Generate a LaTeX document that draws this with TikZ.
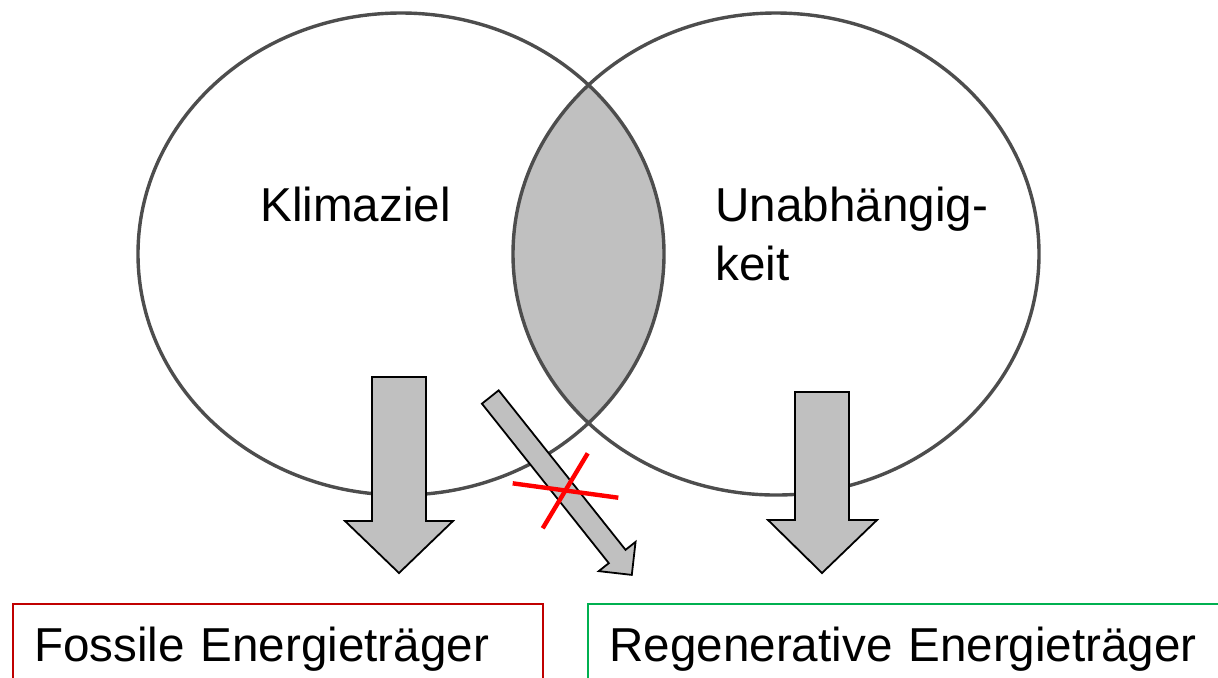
\documentclass[tikz,border=0pt]{standalone}
\usepackage{fontspec}
\setmainfont{Liberation Sans}

\definecolor{ringgray}{HTML}{4D4D4D}
\definecolor{lensgray}{HTML}{C0C0C0}
\definecolor{fossilred}{HTML}{C00000}
\definecolor{regengreen}{HTML}{00B050}

\begin{document}
\begin{tikzpicture}[x=0.5pt,y=-0.5pt,
        ring/.style={draw=ringgray,line width=1.7pt},
        blockarrow/.style={draw=black,fill=lensgray,line width=0.9pt,line join=miter},
        ringtext/.style={font=\fontsize{23.8}{29.5}\selectfont,inner sep=0pt,anchor=base west,align=left},
        energybox/.style={draw,line width=1pt,outer sep=0pt,inner xsep=10.7pt,inner ysep=0pt,
            text height=28.5pt,text depth=40pt,align=left,anchor=base west,
            font=\fontsize{23.8}{29.5}\selectfont}]
    \useasboundingbox (0,0) rectangle (1218,677);

    % overlap of the two aims
    \begin{scope}
        \clip (401,254) ellipse [x radius=263, y radius=241];
        \fill[lensgray] (776,254) ellipse [x radius=263, y radius=241];
    \end{scope}
    \draw[ring] (401,254) ellipse [x radius=263, y radius=241];
    \draw[ring] (776,254) ellipse [x radius=263, y radius=241];

    \node (klima) [ringtext] at (260,221) {Klimaziel};
    \node (unab) [ringtext] at (715,280) {Unabhängig-\\keit};

    % block arrows
    \draw[blockarrow] (372,377)--(426,377)--(426,521)--(453,521)--(399,573)--(345,521)--(372,521)--cycle;
    \draw[blockarrow] (795,392)--(849,392)--(849,520)--(877,520)--(822,573)--(768,520)--(795,520)--cycle;
    \begin{scope}[shift={(490.3,397)},rotate=-51.5]
        \draw[blockarrow] (0,-10.7)--(203.8,-10.7)--(203.8,-23.5)--(227.3,0)--(203.8,23.5)--(203.8,10.7)--(0,10.7)--cycle;
    \end{scope}

    % crossed out
    \draw[red,line width=2.2pt] (512.7,483.3)--(618.3,497.7);
    \draw[red,line width=2.2pt] (587.7,453.3)--(542.7,528.3);

    \node (fossil) [energybox,draw=fossilred,text width=243.8pt] at (12.6,661) {Fossile Energieträger};
    \node (regen) [energybox,draw=regengreen,text width=350pt] at (588,661) {Regenerative Energieträger};
\end{tikzpicture}
\end{document}
